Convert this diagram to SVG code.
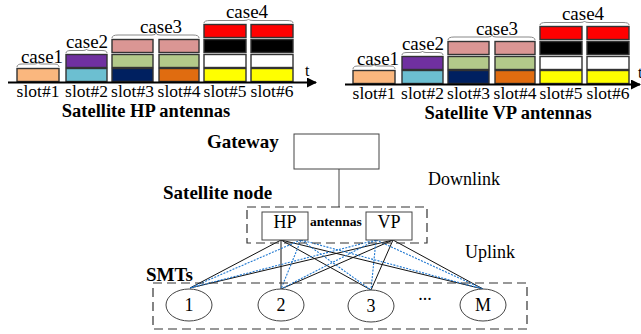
<svg xmlns="http://www.w3.org/2000/svg" width="641" height="334" viewBox="0 0 641 334">
<style>
.s{stroke:#333;stroke-width:1.4}
.t{font-family:"Liberation Serif","DejaVu Serif",serif;fill:#000}
.b{font-family:"Liberation Serif","DejaVu Serif",serif;font-weight:bold;fill:#000}
.br{fill:none;stroke:#888;stroke-width:1}
.box{fill:#fff;stroke:#444;stroke-width:1}
.dash{fill:none;stroke:#333;stroke-width:1.2;stroke-dasharray:9,5}
.bl{stroke:#111;stroke-width:1}
.bd{stroke:#1f78d1;stroke-width:1.1;stroke-dasharray:2,1.3}
</style>
<defs>
<marker id="arr" markerWidth="10" markerHeight="10" refX="9" refY="5" orient="auto" markerUnits="userSpaceOnUse">
<path d="M0,0 L10,5 L0,10 Z" fill="#000"/>
</marker>
<g id="chart">
<rect class="s" x="17" y="68.5" width="42" height="13" fill="#FAB77E"/>
<rect class="s" x="66" y="68.5" width="41" height="13" fill="#6CBFD1"/>
<rect class="s" x="66" y="54.5" width="41" height="13" fill="#7030A0"/>
<rect class="s" x="112" y="68.5" width="41" height="13" fill="#002060"/>
<rect class="s" x="112" y="54.5" width="41" height="13" fill="#B3C98A"/>
<rect class="s" x="112" y="39.5" width="41" height="13" fill="#DA9694"/>
<rect class="s" x="159" y="68.5" width="40" height="13" fill="#E06C10"/>
<rect class="s" x="159" y="54.5" width="40" height="13" fill="#B3C98A"/>
<rect class="s" x="159" y="39.5" width="40" height="13" fill="#DA9694"/>
<rect class="s" x="204" y="68.5" width="42" height="13" fill="#FFFF00"/>
<rect class="s" x="204" y="54.5" width="42" height="13" fill="#FFFFFF"/>
<rect class="s" x="204" y="39.5" width="42" height="13" fill="#000000"/>
<rect class="s" x="204" y="24.5" width="42" height="13" fill="#FF0000"/>
<rect class="s" x="251" y="68.5" width="42" height="13" fill="#FFFF00"/>
<rect class="s" x="251" y="54.5" width="42" height="13" fill="#FFFFFF"/>
<rect class="s" x="251" y="39.5" width="42" height="13" fill="#000000"/>
<rect class="s" x="251" y="24.5" width="42" height="13" fill="#FF0000"/>
<path class="br" d="M17,67 Q17,64 22,64 L35,64 Q38,64 38,62 Q38,64 41,64 L54,64 Q59,64 59,67"/>
<path class="br" d="M66,53 Q66,50.5 71,50.5 L83,50.5 Q86.5,50.5 86.5,49 Q86.5,50.5 90,50.5 L102,50.5 Q107,50.5 107,53"/>
<path class="br" d="M112,38 Q112,35 118,35 L152,35 Q156,35 156,33 Q156,35 160,35 L193,35 Q199,35 199,38"/>
<path class="br" d="M204,23 Q204,20.5 210,20.5 L244,20.5 Q248.5,20.5 248.5,19 Q248.5,20.5 253,20.5 L287,20.5 Q293,20.5 293,23"/>
</g>
</defs>
<rect width="641" height="334" fill="#fff"/>

<g id="hp-chart">
<use href="#chart"/>
<g class="t" font-size="19" text-anchor="middle">
<text x="42" y="63">case1</text>
<text x="87" y="48">case2</text>
<text x="161" y="33">case3</text>
<text x="247" y="18">case4</text>
</g>
<line x1="8" y1="82.5" x2="316" y2="82.5" stroke="#000" stroke-width="2" marker-end="url(#arr)"/>
<text class="t" font-size="16" x="305" y="76">t</text>
<g class="t" font-size="17.5" text-anchor="middle">
<text x="38" y="97">slot#1</text>
<text x="86.5" y="97">slot#2</text>
<text x="132.5" y="97">slot#3</text>
<text x="179" y="97">slot#4</text>
<text x="225" y="97">slot#5</text>
<text x="272" y="97">slot#6</text>
</g>
<text class="b" font-size="18.5" x="146" y="117" text-anchor="middle">Satellite HP antennas</text>
</g>

<g id="vp-chart" transform="translate(336,2)">
<use href="#chart"/>
<g class="t" font-size="19" text-anchor="middle">
<text x="42" y="63">case1</text>
<text x="87" y="48">case2</text>
<text x="161" y="33">case3</text>
<text x="247" y="18">case4</text>
</g>
<line x1="9" y1="82.5" x2="304" y2="82.5" stroke="#000" stroke-width="2" marker-end="url(#arr)"/>
<text class="t" font-size="16" x="302" y="76">t</text>
<g class="t" font-size="17.5" text-anchor="middle">
<text x="38" y="97">slot#1</text>
<text x="86.5" y="97">slot#2</text>
<text x="132.5" y="97">slot#3</text>
<text x="179" y="97">slot#4</text>
<text x="225" y="97">slot#5</text>
<text x="272" y="97">slot#6</text>
</g>
<text class="b" font-size="18.5" x="172" y="117" text-anchor="middle">Satellite VP antennas</text>
</g>

<g id="connectors">
<line x1="339" y1="169" x2="339" y2="207" stroke="#444" stroke-width="1"/>
<g class="bl">
<line x1="281" y1="240" x2="190" y2="288"/>
<line x1="281" y1="240" x2="281" y2="289"/>
<line x1="281" y1="240" x2="371" y2="290"/>
<line x1="281" y1="240" x2="483" y2="289"/>
<line x1="393" y1="240" x2="190" y2="288"/>
<line x1="393" y1="240" x2="281" y2="289"/>
<line x1="393" y1="240" x2="371" y2="290"/>
<line x1="393" y1="240" x2="483" y2="289"/>
</g>
<g class="bd">
<line x1="301" y1="240" x2="190" y2="288"/>
<line x1="301" y1="240" x2="281" y2="289"/>
<line x1="301" y1="240" x2="371" y2="290"/>
<line x1="301" y1="240" x2="483" y2="289"/>
<line x1="376" y1="240" x2="190" y2="288"/>
<line x1="376" y1="240" x2="281" y2="289"/>
<line x1="376" y1="240" x2="371" y2="290"/>
<line x1="376" y1="240" x2="483" y2="289"/>
</g>
</g>

<g id="gateway">
<rect class="box" x="294" y="134" width="85" height="35"/>
<text class="b" font-size="19" x="207" y="148">Gateway</text>
</g>

<g id="satellite-node">
<rect class="dash" x="247" y="207" width="180" height="36"/>
<text class="b" font-size="19" x="163" y="199">Satellite node</text>
<text class="b" font-size="13.5" x="336" y="226" text-anchor="middle">antennas</text>
</g>
<g id="hp">
<rect class="box" x="262" y="212" width="46" height="28"/>
<text class="t" font-size="18" x="285" y="228" text-anchor="middle">HP</text>
</g>
<g id="vp">
<rect class="box" x="366" y="212" width="46" height="28"/>
<text class="t" font-size="18" x="389" y="228" text-anchor="middle">VP</text>
</g>

<g id="link-labels" class="t" font-size="18">
<text x="428" y="185">Downlink</text>
<text x="465" y="258">Uplink</text>
</g>

<g id="smts">
<rect class="dash" x="153" y="283" width="374" height="46"/>
<text class="b" font-size="19" x="146" y="281">SMTs</text>
<text class="t" font-size="18" x="425" y="300" text-anchor="middle">...</text>
</g>
<g id="smt1">
<ellipse class="box" cx="189" cy="305" rx="23" ry="16"/>
<text class="t" font-size="18" x="189" y="311" text-anchor="middle">1</text>
</g>
<g id="smt2">
<ellipse class="box" cx="281" cy="305" rx="23" ry="16"/>
<text class="t" font-size="18" x="281" y="311" text-anchor="middle">2</text>
</g>
<g id="smt3">
<ellipse class="box" cx="371" cy="306" rx="23" ry="16"/>
<text class="t" font-size="18" x="371" y="312" text-anchor="middle">3</text>
</g>
<g id="smtM">
<ellipse class="box" cx="483" cy="305" rx="23" ry="16"/>
<text class="t" font-size="18" x="483" y="311" text-anchor="middle">M</text>
</g>
</svg>
